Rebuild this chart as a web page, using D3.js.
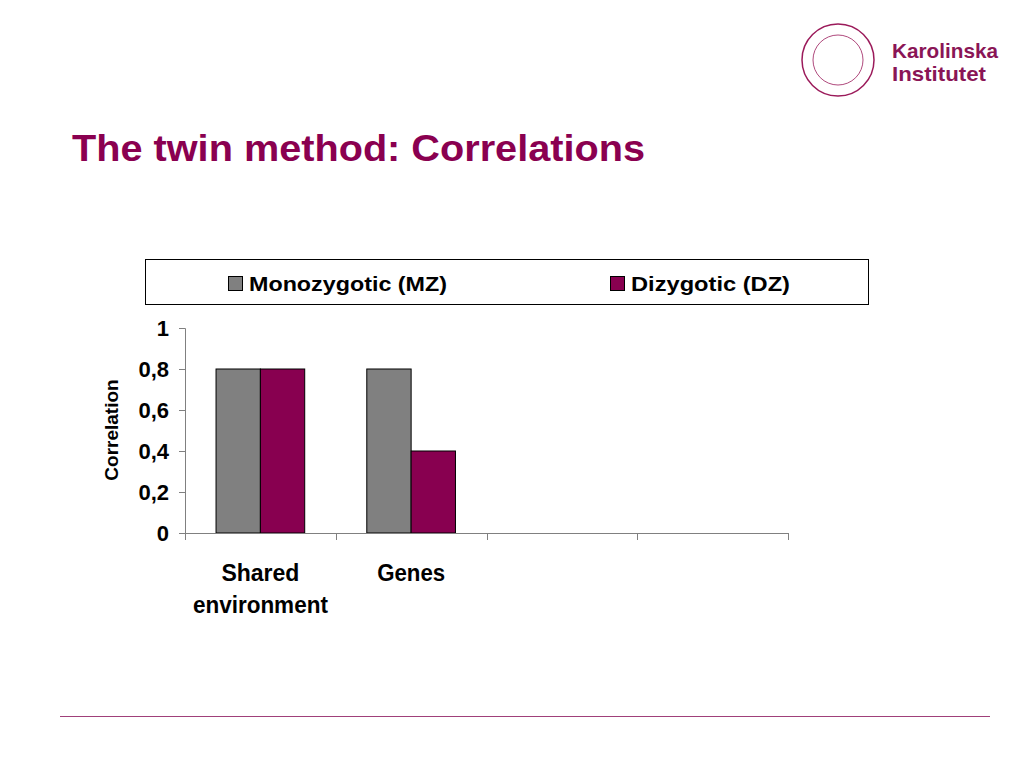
<!DOCTYPE html>
<html>
<head>
<meta charset="utf-8">
<script src="https://cdn.jsdelivr.net/npm/d3@7"></script>
<style>
body { margin: 0; background: #fff; }
svg { font-family: "Liberation Sans", Arial, sans-serif; }
</style>
</head>
<body>
<script>
// chart data
var categories = ["Shared environment", "Genes", "", ""];
var seriesNames = ["Monozygotic (MZ)", "Dizygotic (DZ)"];
var mzValues = [0.8, 0.8, null, null];
var dzValues = [0.8, 0.4, null, null];
var yTicks = [0, 0.2, 0.4, 0.6, 0.8, 1];
var colors = ["#808080", "#880050"];

var svg = d3.select("body").append("svg")
    .attr("width", 1024).attr("height", 768);

// logo
var logo = svg.append("g");
logo.append("circle").attr("cx", 838).attr("cy", 60).attr("r", 36)
    .attr("fill", "none").attr("stroke", "#9b1a5a").attr("stroke-width", 1.5);
logo.append("circle").attr("cx", 838).attr("cy", 60).attr("r", 25)
    .attr("fill", "none").attr("stroke", "#9b1a5a").attr("stroke-width", 0.8);
[["Karolinska", 58], ["Institutet", 81]].forEach(function(l) {
    logo.append("text").attr("x", 892).attr("y", l[1])
        .attr("font-weight", "bold").attr("font-size", 21).attr("fill", "#8a1556")
        .attr("textLength", l[0] === "Karolinska" ? 106 : 94).attr("lengthAdjust", "spacingAndGlyphs")
        .text(l[0]);
});

// title
svg.append("text").attr("x", 72).attr("y", 161)
    .attr("font-weight", "bold").attr("font-size", 36).attr("fill", "#8a0050")
    .attr("textLength", 573).attr("lengthAdjust", "spacingAndGlyphs")
    .text("The twin method: Correlations");

// legend
svg.append("rect").attr("x", 145.5).attr("y", 259.5).attr("width", 723).attr("height", 45)
    .attr("fill", "#fff").attr("stroke", "#000").attr("stroke-width", 1);
var legendX = [228, 610];
var legendLen = [198, 159];
seriesNames.forEach(function(n, i) {
    svg.append("rect").attr("x", legendX[i] + 0.5).attr("y", 276.5).attr("width", 14).attr("height", 14)
        .attr("fill", colors[i]).attr("stroke", "#000");
    svg.append("text").attr("x", legendX[i] + 21).attr("y", 291)
        .attr("font-weight", "bold").attr("font-size", 21)
        .attr("textLength", legendLen[i]).attr("lengthAdjust", "spacingAndGlyphs").text(n);
});

// plot
var x0 = d3.scaleBand().domain(d3.range(categories.length)).range([185, 788]);
var x1 = d3.scaleBand().domain([0, 1]).range([0, x0.bandwidth()]).paddingInner(0).paddingOuter(0.7);
var y = d3.scaleLinear().domain([0, 1]).range([533, 328]);

var series = [mzValues, dzValues];
series.forEach(function(vals, s) {
    svg.append("g").selectAll("rect")
        .data(vals.map(function(v, i) { return {i: i, v: v}; }).filter(function(d) { return d.v != null; }))
        .enter().append("rect")
        .attr("x", function(d) { return x0(d.i) + x1(s); })
        .attr("y", function(d) { return y(d.v); })
        .attr("width", x1.bandwidth())
        .attr("height", function(d) { return y(0) - y(d.v); })
        .attr("fill", colors[s]).attr("stroke", "#000").attr("stroke-width", 1);
});

var yAxis = svg.append("g").attr("transform", "translate(185,0)")
    .call(d3.axisLeft(y).tickValues(yTicks).tickSize(6).tickPadding(10)
        .tickFormat(function(d) { return String(d).replace(".", ","); }));
yAxis.selectAll("text").attr("font-size", 22).attr("font-weight", "bold").attr("fill", "#000")
    .style("font-family", "Liberation Sans, Arial, sans-serif");
yAxis.selectAll("line,path").attr("stroke", "#808080");
yAxis.select(".domain").attr("d", "M-6,328.5H0.5V533.5");

var xAxis = svg.append("g").attr("transform", "translate(0,533)")
    .call(d3.axisBottom(x0).tickSize(0).tickFormat(""));
xAxis.select(".domain").attr("stroke", "#808080");
xAxis.selectAll(".xt").data(d3.range(categories.length + 1)).enter().append("line")
    .attr("x1", function(d) { return Math.round(185 + d * x0.bandwidth()) + 0.5; })
    .attr("x2", function(d) { return Math.round(185 + d * x0.bandwidth()) + 0.5; })
    .attr("y1", 0).attr("y2", 7).attr("stroke", "#808080");

var wordLen = {"Shared": 78, "environment": 135, "Genes": 68};
categories.forEach(function(c, i) {
    if (!c) return;
    c.split(" ").forEach(function(w, k) {
        svg.append("text").attr("text-anchor", "middle")
            .attr("x", x0(i) + x0.bandwidth() / 2).attr("y", 581 + k * 32)
            .attr("font-weight", "bold").attr("font-size", 24)
            .attr("textLength", wordLen[w]).attr("lengthAdjust", "spacingAndGlyphs")
            .text(w);
    });
});

svg.append("text").attr("transform", "translate(118,430) rotate(-90)")
    .attr("text-anchor", "middle").attr("font-weight", "bold").attr("font-size", 19)
    .text("Correlation");

// footer line
svg.append("line").attr("x1", 60).attr("x2", 990).attr("y1", 716.5).attr("y2", 716.5)
    .attr("stroke", "#a0407a").attr("stroke-width", 1);
</script>
</body>
</html>
